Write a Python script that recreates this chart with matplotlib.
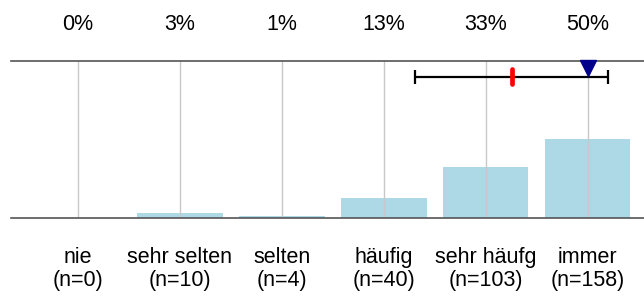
import numpy as np
import matplotlib
matplotlib.use("Agg")
import matplotlib.pyplot as plt
import matplotlib.transforms as mtransforms

plt.rcParams['font.family'] = ['Liberation Sans', 'DejaVu Sans']

categories = ["nie", "sehr selten", "selten", "häufig", "sehr häufg", "immer"]
counts = [0, 10, 4, 40, 103, 158]
pct_labels = ["0%", "3%", "1%", "13%", "33%", "50%"]

counts_arr = np.array(counts, dtype=float)
x = np.arange(1, len(categories) + 1)
total = counts_arr.sum()
props = counts_arr / total
mean = (x * counts_arr).sum() / total
sd = np.sqrt(((x - mean) ** 2 * counts_arr).sum() / (total - 1))
median_idx = 6

fig = plt.figure(figsize=(6.44, 3.0), dpi=100)
ax = fig.add_axes([11 / 644, 1 - 218 / 300, 1 - 11 / 644, (218 - 61) / 300])

ax.bar(x, props, width=0.84, color="#ADD8E6", zorder=1)
ax.set_xlim(0.3425, 6.554)
ax.set_ylim(0, 1)

for xi in x:
    ax.axvline(xi, color="#C8C8C8", lw=1.0, zorder=1.5)

# mean +- sd
y_err = 0.90
ax.errorbar([mean], [y_err], xerr=[[sd], [sd]], fmt="none", ecolor="black",
            elinewidth=1.6, capsize=5, capthick=1.6, zorder=4)
ax.plot([mean, mean], [0.855, 0.95], color="red", lw=3.4,
        solid_capstyle="round", zorder=5)
ax.plot([median_idx], [0.955], marker="v", color="#00008B", markersize=11,
        linestyle="none", zorder=6, clip_on=False)

for s in ["left", "right"]:
    ax.spines[s].set_visible(False)
for s in ["top", "bottom"]:
    ax.spines[s].set_color("#555555")
    ax.spines[s].set_linewidth(1.2)

ax.set_yticks([])
ax.set_xticks(x)
ax.set_xticklabels([f"{c}\n(n={n})" for c, n in zip(categories, counts)],
                   fontsize=15.5, linespacing=1.1)
ax.tick_params(axis="x", length=0, pad=21)

trans = mtransforms.blended_transform_factory(ax.transData, fig.transFigure)
for xi, lab in zip(x, pct_labels):
    ax.text(xi, 1 - 24 / 300, lab, transform=trans, ha="center", va="center",
            fontsize=15.5)

fig.savefig("out.png", dpi=100)
